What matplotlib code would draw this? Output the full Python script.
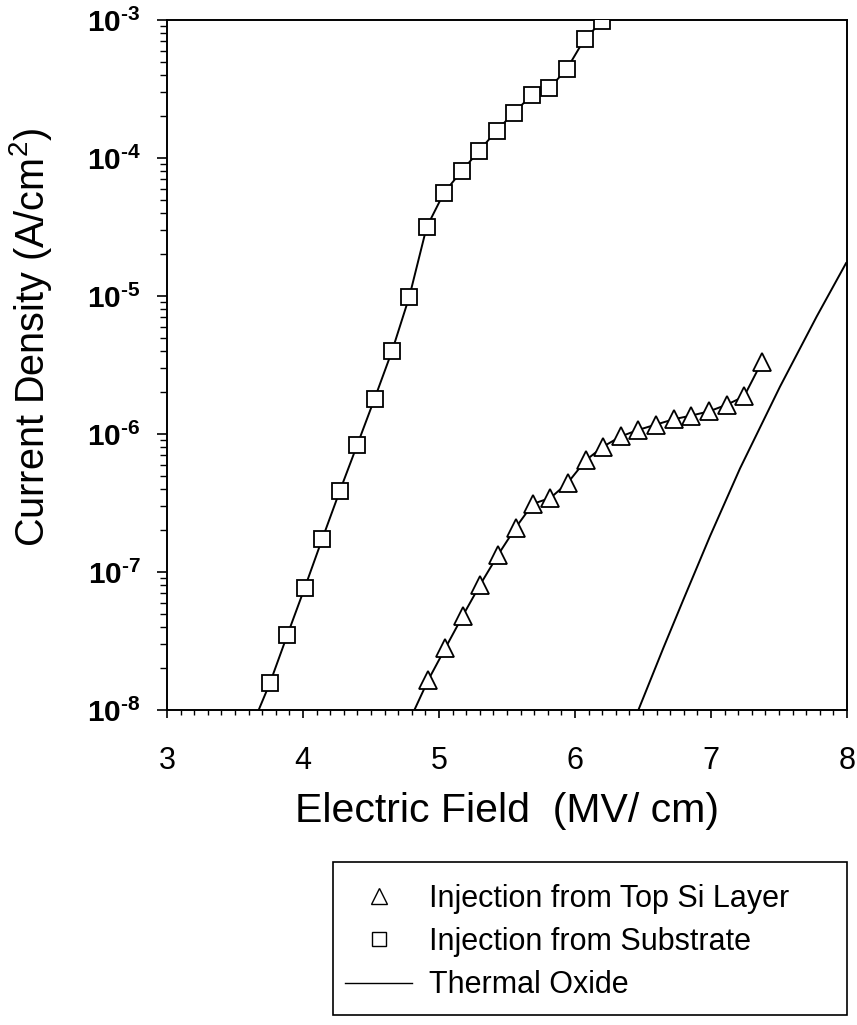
import matplotlib
matplotlib.use("Agg")
import matplotlib.pyplot as plt
from matplotlib.lines import Line2D
from matplotlib.patches import Rectangle
from matplotlib.ticker import FixedLocator, LogLocator, MultipleLocator, NullFormatter

plt.rcParams['font.family'] = ['Liberation Sans', 'DejaVu Sans']
plt.rcParams['mathtext.fontset'] = 'custom'
plt.rcParams['mathtext.rm'] = 'Liberation Sans'
plt.rcParams['mathtext.it'] = 'Liberation Sans'
plt.rcParams['mathtext.bf'] = 'Liberation Sans:bold'

# ---------------- data ----------------
# Injection from Substrate (squares)
sub_E = [3.757, 3.885, 4.013, 4.141, 4.270, 4.398, 4.526, 4.655, 4.782, 4.909,
         5.037, 5.167, 5.296, 5.424, 5.551, 5.681, 5.809, 5.939, 6.071, 6.201]
sub_J = [1.57e-8, 3.5e-8, 7.7e-8, 1.73e-7, 3.85e-7, 8.3e-7, 1.8e-6, 4.0e-6, 9.9e-6, 3.15e-5,
         5.6e-5, 8.05e-5, 1.13e-4, 1.58e-4, 2.13e-4, 2.85e-4, 3.19e-4, 4.4e-4, 7.3e-4, 9.8e-4]
# Line continues below the first marker to the axis floor
sub_line_E = [3.674] + sub_E
sub_line_J = [1.0e-8] + sub_J

# Injection from Top Si Layer (triangles)
top_E = [4.921, 5.046, 5.174, 5.303, 5.434, 5.563, 5.691, 5.819, 5.947, 6.079,
         6.207, 6.336, 6.464, 6.595, 6.727, 6.855, 6.987, 7.115, 7.243, 7.375]
top_J = [1.65e-8, 2.8e-8, 4.8e-8, 8.1e-8, 1.33e-7, 2.09e-7, 3.12e-7, 3.44e-7, 4.43e-7, 6.45e-7,
         8.1e-7, 9.6e-7, 1.07e-6, 1.17e-6, 1.28e-6, 1.36e-6, 1.46e-6, 1.63e-6, 1.87e-6, 3.35e-6]
top_line_E = [4.819] + top_E
top_line_J = [1.0e-8] + top_J

# Thermal Oxide (solid curve)
ox_E = [6.466, 6.650, 6.797, 6.993, 7.213, 7.507, 7.777, 7.993]
ox_J = [1.0e-8, 2.82e-8, 6.31e-8, 1.82e-7, 5.62e-7, 2.20e-6, 7.10e-6, 1.73e-5]

x_ticks = [3, 4, 5, 6, 7, 8]
y_ticks = [1e-8, 1e-7, 1e-6, 1e-5, 1e-4, 1e-3]
y_ticklabels = ['$\\mathbf{10^{\u20108}}$', '$\\mathbf{10^{\u20107}}$', '$\\mathbf{10^{\u20106}}$',
                '$\\mathbf{10^{\u20105}}$', '$\\mathbf{10^{\u20104}}$', '$\\mathbf{10^{\u20103}}$']
legend_labels = ['Injection from Top Si Layer', 'Injection from Substrate', 'Thermal Oxide']

# ---------------- figure ----------------
W, H = 857, 1025
fig = plt.figure(figsize=(W / 100, H / 100), dpi=100)
ax = fig.add_axes([167 / W, 1 - 710 / H, 680 / W, 690 / H])

lw = 1.4
ax.plot(sub_line_E, sub_line_J, color='black', lw=lw, zorder=2)
ax.plot(sub_E, sub_J, linestyle='none', marker='s', markersize=11,
        markerfacecolor='white', markeredgecolor='black', markeredgewidth=1.3, zorder=3)
ax.plot(top_line_E, top_line_J, color='black', lw=lw, zorder=2)
ax.plot(top_E, top_J, linestyle='none', marker='^', markersize=13,
        markerfacecolor='white', markeredgecolor='black', markeredgewidth=1.3, zorder=3)
ax.plot(ox_E, ox_J, color='black', lw=lw, zorder=2)

ax.set_yscale('log')
ax.set_xlim(3, 8)
ax.set_ylim(1e-8, 1e-3)

ax.xaxis.set_major_locator(FixedLocator(x_ticks))
ax.xaxis.set_minor_locator(MultipleLocator(0.1))
ax.set_xticklabels([str(t) for t in x_ticks], fontsize=22)
ax.yaxis.set_major_locator(FixedLocator(y_ticks))
ax.yaxis.set_minor_locator(LogLocator(base=10, subs=range(2, 10), numticks=20))
ax.yaxis.set_minor_formatter(NullFormatter())
ax.set_yticklabels(y_ticklabels, fontsize=21.5)

ax.tick_params(axis='x', which='major', direction='out', length=6, width=1.2, pad=20)
ax.tick_params(axis='x', which='minor', direction='out', length=3.5, width=1.0)
ax.tick_params(axis='y', which='major', direction='out', length=7, width=1.2, pad=12)
ax.tick_params(axis='y', which='minor', direction='out', length=5, width=1.0)
for s in ax.spines.values():
    s.set_linewidth(1.4)

ax.set_xlabel('Electric Field  (MV/ cm)', fontsize=29.5, va='top')
ax.xaxis.set_label_coords(0.5, -(792 - 710) / 690)
ax.set_ylabel(r'Current Density (A/cm$^{2}$)', fontsize=28.5)
ax.yaxis.set_label_coords(-(167 - 54) / 680, (710 - 337) / 690)

# legend frame
fig.patches.append(Rectangle((333 / W, 1 - 1015 / H), (847 - 333) / W, (1015 - 862) / H,
                             transform=fig.transFigure, fill=False,
                             edgecolor='black', linewidth=1.2))
handles = [
    Line2D([], [], linestyle='none', marker='^', markersize=12,
           markerfacecolor='white', markeredgecolor='black', markeredgewidth=1.0),
    Line2D([], [], linestyle='none', marker='s', markersize=10,
           markerfacecolor='white', markeredgecolor='black', markeredgewidth=1.0),
    Line2D([], [], color='black', lw=1.0),
]
leg = fig.legend(handles, legend_labels, loc='upper left',
                 bbox_to_anchor=(345 / W, 1 - 884 / H), bbox_transform=fig.transFigure,
                 fontsize=22, frameon=False,
                 handlelength=2.2, handletextpad=0.55, labelspacing=0.43,
                 borderpad=0.0, borderaxespad=0.0)

fig.savefig('out.png', dpi=100)
